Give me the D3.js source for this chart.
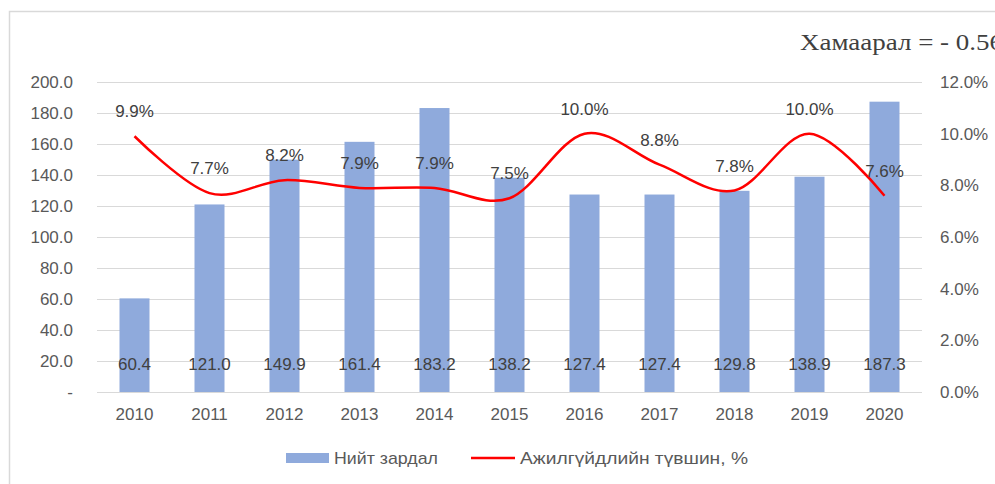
<!DOCTYPE html>
<html>
<head>
<meta charset="utf-8">
<script src="https://cdn.jsdelivr.net/npm/d3@7"></script>
<style>
  body { margin: 0; background: #fff; }
  text { font-family: "Liberation Sans", Arial, sans-serif; }
</style>
</head>
<body>
<svg id="chart" width="995" height="484"></svg>
<script>
// data
const years = ["2010", "2011", "2012", "2013", "2014", "2015", "2016", "2017", "2018", "2019", "2020"];
const totalCost = [60.4, 121.0, 149.9, 161.4, 183.2, 138.2, 127.4, 127.4, 129.8, 138.9, 187.3];
const unemployment = [9.9, 7.7, 8.2, 7.9, 7.9, 7.5, 10.0, 8.8, 7.8, 10.0, 7.6];
const leftTicks = [0, 20, 40, 60, 80, 100, 120, 140, 160, 180, 200];
const rightTicks = [0, 2, 4, 6, 8, 10, 12];

const svg = d3.select("#chart");

// frame (only top and left edges are visible)
svg.append("path")
    .attr("d", "M9.5,490V11.5H1000")
    .attr("fill", "none")
    .attr("stroke", "#d9d9d9")
    .attr("stroke-width", 1.5);

const plot = { left: 97, right: 922, top: 82, bottom: 392 };

const x = d3.scaleBand().domain(years).range([plot.left, plot.right]).paddingInner(0.6).paddingOuter(0.3);
const xc = d => x(d) + x.bandwidth() / 2;
const yL = d3.scaleLinear().domain([0, 200]).range([plot.bottom, plot.top]);
const yR = d3.scaleLinear().domain([0, 12]).range([plot.bottom, plot.top]);

// gridlines
svg.append("g").selectAll("line")
    .data(leftTicks)
    .enter().append("line")
    .attr("x1", plot.left).attr("x2", plot.right)
    .attr("y1", d => Math.round(yL(d)) + 0.5)
    .attr("y2", d => Math.round(yL(d)) + 0.5)
    .attr("stroke", "#d9d9d9")
    .attr("stroke-width", 1);

// left axis
const leftAxis = svg.append("g")
    .attr("transform", `translate(${plot.left},0)`)
    .call(d3.axisLeft(yL).tickValues(leftTicks).tickSize(0).tickPadding(24)
        .tickFormat(d => d === 0 ? "-" : d3.format(".1f")(d)));
leftAxis.select(".domain").remove();
leftAxis.selectAll("text").attr("font-size", 17).attr("fill", "#595959")
    .attr("font-family", "Liberation Sans, Arial, sans-serif");

// right axis
const rightAxis = svg.append("g")
    .attr("transform", `translate(${plot.right},0)`)
    .call(d3.axisRight(yR).tickValues(rightTicks).tickSize(0).tickPadding(18)
        .tickFormat(d => d3.format(".1f")(d) + "%"));
rightAxis.select(".domain").remove();
rightAxis.selectAll("text").attr("font-size", 17).attr("fill", "#595959")
    .attr("font-family", "Liberation Sans, Arial, sans-serif");

// x axis
const xAxis = svg.append("g")
    .attr("transform", `translate(0,${plot.bottom})`)
    .call(d3.axisBottom(x).tickSize(0).tickPadding(16));
xAxis.select(".domain").remove();
xAxis.selectAll("text").attr("font-size", 17).attr("fill", "#595959")
    .attr("font-family", "Liberation Sans, Arial, sans-serif");

// bars
svg.append("g").selectAll("rect")
    .data(years)
    .enter().append("rect")
    .attr("x", d => x(d))
    .attr("y", (d, i) => yL(totalCost[i]))
    .attr("width", x.bandwidth())
    .attr("height", (d, i) => plot.bottom - yL(totalCost[i]))
    .attr("fill", "#8faadc");

// bar labels
svg.append("g").selectAll("text")
    .data(years)
    .enter().append("text")
    .attr("x", d => xc(d))
    .attr("y", yL(14.5))
    .attr("text-anchor", "middle")
    .attr("font-size", 17)
    .attr("fill", "#404040")
    .text((d, i) => d3.format(".1f")(totalCost[i]));

// line
const line = d3.line()
    .x((d, i) => xc(years[i]))
    .y(d => yR(d))
    .curve(d3.curveCatmullRom.alpha(0));

svg.append("path")
    .datum(unemployment)
    .attr("d", line)
    .attr("fill", "none")
    .attr("stroke", "#ff0000")
    .attr("stroke-width", 2.5);

// line labels
svg.append("g").selectAll("text")
    .data(unemployment)
    .enter().append("text")
    .attr("x", (d, i) => xc(years[i]))
    .attr("y", d => yR(d) - 19)
    .attr("text-anchor", "middle")
    .attr("font-size", 17)
    .attr("fill", "#404040")
    .text(d => d3.format(".1f")(d) + "%");

// title (runs off the right edge in the original)
svg.append("text")
    .attr("x", 800)
    .attr("y", 50)
    .style("font-family", "'Liberation Serif', 'Times New Roman', serif")
    .attr("font-size", 23)
    .attr("fill", "#404040")
    .attr("textLength", 203)
    .attr("lengthAdjust", "spacingAndGlyphs")
    .text("Хамаарал = - 0.56");

// legend
const legend = svg.append("g");
legend.append("rect")
    .attr("x", 286).attr("y", 453)
    .attr("width", 43).attr("height", 10)
    .attr("fill", "#8faadc");
legend.append("text")
    .attr("x", 334).attr("y", 464)
    .attr("font-size", 17).attr("fill", "#595959")
    .attr("textLength", 104).attr("lengthAdjust", "spacingAndGlyphs")
    .text("Нийт зардал");
legend.append("line")
    .attr("x1", 471).attr("x2", 515)
    .attr("y1", 458).attr("y2", 458)
    .attr("stroke", "#ff0000").attr("stroke-width", 2.5);
legend.append("text")
    .attr("x", 520).attr("y", 464)
    .attr("font-size", 17).attr("fill", "#595959")
    .attr("textLength", 228).attr("lengthAdjust", "spacingAndGlyphs")
    .text("Ажилгүйдлийн түвшин, %");
</script>
</body>
</html>
